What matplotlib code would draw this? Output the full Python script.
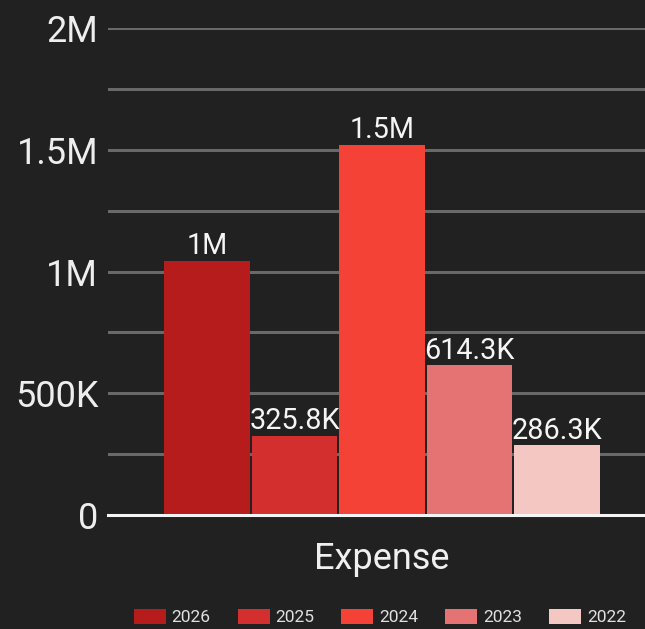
import matplotlib
matplotlib.use("Agg")
import matplotlib.pyplot as plt
from matplotlib.ticker import MultipleLocator
from matplotlib.patches import Patch

categories = ["Expense"]
series = ["2026", "2025", "2024", "2023", "2022"]
values = [1043000, 325800, 1519500, 614300, 286300]
colors = ["#B71C1C", "#D32F2F", "#F44336", "#E57373", "#F4C7C3"]
yticks = [0, 500000, 1000000, 1500000, 2000000]
ytick_labels = ["0", "500K", "1M", "1.5M", "2M"]

plt.rcParams['font.family'] = ['Roboto', 'DejaVu Sans']

BG = "#212121"
W, H = 645, 629
fig = plt.figure(figsize=(W / 100, H / 100), dpi=100, facecolor=BG)
ax = fig.add_axes([108 / W, 1 - 515 / H, 548 / W, 487 / H], facecolor=BG)


def fmt(v):
    if v >= 1e6:
        s = f"{v / 1e6:.1f}".rstrip("0").rstrip(".")
        return s + "M"
    if v >= 1e3:
        s = f"{v / 1e3:.1f}".rstrip("0").rstrip(".")
        return s + "K"
    return f"{v:g}"


n = len(series)
positions = [i - (n - 1) / 2 for i in range(n)]
for pos, v, c, s in zip(positions, values, colors, series):
    b = ax.bar(pos, v, width=0.975, color=c, label=s, zorder=3)
    ax.bar_label(b, labels=[fmt(v)], padding=0.5, color="#F5F5F5", fontsize=20.7, zorder=4)

ax.set_xlim(-3.13, 3.13)
ax.set_ylim(0, 2000000)
ax.set_yticks(yticks)
ax.set_yticklabels(ytick_labels)
ax.yaxis.set_minor_locator(MultipleLocator(250000))
ax.grid(axis="y", which="both", color="#696969", linewidth=2.2, zorder=0)
ax.tick_params(axis="y", which="both", length=0, pad=7, labelsize=26, labelcolor="#EEEEEE")
ax.set_xticks([0])
ax.set_xticklabels(categories)
ax.tick_params(axis="x", length=0, pad=19, labelsize=26, labelcolor="#F0F0F0")
for sp in ["top", "right", "left"]:
    ax.spines[sp].set_visible(False)
ax.spines["bottom"].set_color("#F5F5F5")
ax.spines["bottom"].set_linewidth(2.2)
ax.spines["bottom"].set_zorder(5)

handles = [Patch(facecolor=c, label=s) for c, s in zip(colors, series)]
leg = fig.legend(handles=handles, loc="center", bbox_to_anchor=(380 / W, 1 - 617 / H),
                 ncol=5, frameon=False, fontsize=12.5, handlelength=1.84, handleheight=1.0,
                 handletextpad=0.35, columnspacing=1.55, borderpad=0, borderaxespad=0)
for t in leg.get_texts():
    t.set_color("#E0E0E0")

fig.savefig("out.png", dpi=100, facecolor=BG)
